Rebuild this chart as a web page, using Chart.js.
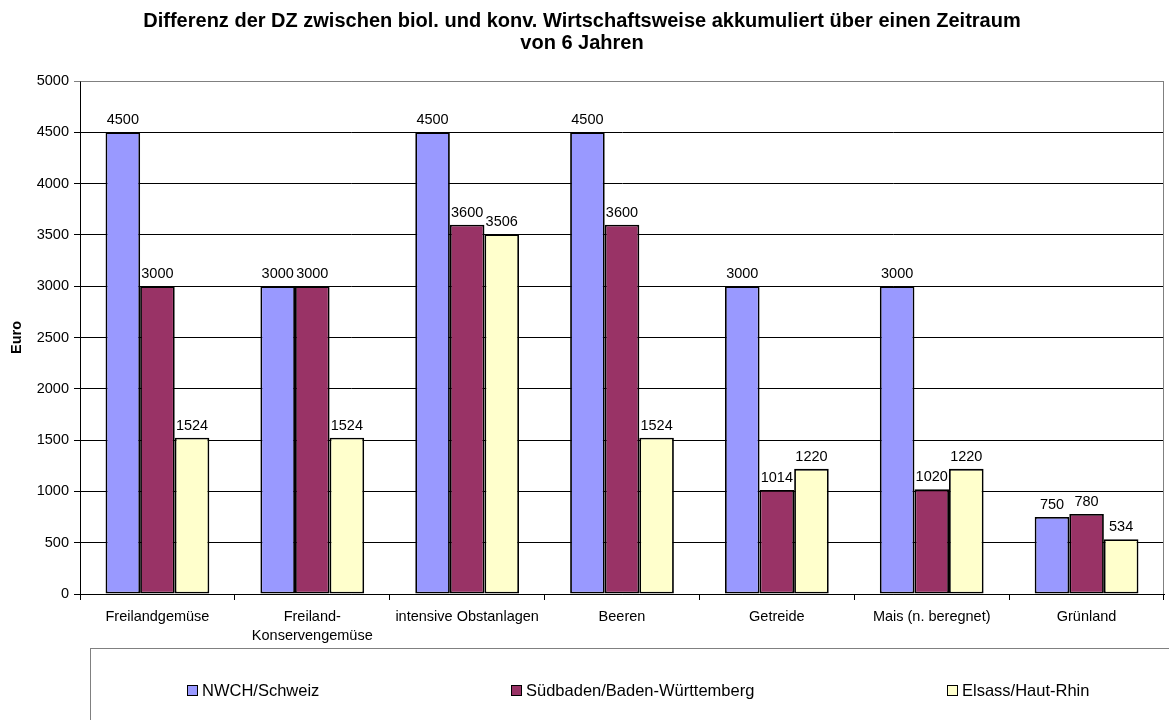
<!DOCTYPE html>
<html>
<head>
<meta charset="utf-8">
<script src="https://cdn.jsdelivr.net/npm/chart.js@4/dist/chart.umd.min.js"></script>
<style>
html,body{margin:0;padding:0;background:#fff;}
#wrap{width:1169px;height:720px;position:relative;}
</style>
</head>
<body>
<div id="wrap"><canvas id="c" width="1169" height="720"></canvas></div>
<script>
const categories = [
  "Freilandgemüse",
  ["Freiland-", "Konservengemüse"],
  "intensive Obstanlagen",
  "Beeren",
  "Getreide",
  "Mais (n. beregnet)",
  "Grünland"
];
const seriesNames = ["NWCH/Schweiz", "Südbaden/Baden-Württemberg", "Elsass/Haut-Rhin"];
const nwch = [4500, 3000, 4500, 4500, 3000, 3000, 750];
const suedbaden = [3000, 3000, 3600, 3600, 1014, 1020, 780];
const elsass = [1524, 1524, 3506, 1524, 1220, 1220, 534];
const yTicks = [0, 500, 1000, 1500, 2000, 2500, 3000, 3500, 4000, 4500, 5000];
const titleLines = ["Differenz der DZ zwischen biol. und konv. Wirtschaftsweise akkumuliert über einen Zeitraum", "von 6 Jahren"];
const yTitle = "Euro";
const colors = ["#9999FF", "#993366", "#FFFFCC"];

const FONT = "'Liberation Sans', Arial, sans-serif";

const plotFrame = {
  id: 'plotFrame',
  beforeDatasetsDraw(chart) {
    const {ctx, chartArea: a} = chart;
    ctx.save();
    ctx.strokeStyle = '#808080';
    ctx.lineWidth = 1;
    ctx.beginPath();
    ctx.moveTo(Math.round(a.left) + 0.5, Math.round(a.top) + 0.5);
    ctx.lineTo(Math.round(a.right) - 0.5, Math.round(a.top) + 0.5);
    ctx.lineTo(Math.round(a.right) - 0.5, Math.round(a.bottom));
    ctx.stroke();
    ctx.restore();
  }
};

const dataLabels = {
  id: 'dataLabels',
  afterDatasetsDraw(chart) {
    const {ctx} = chart;
    ctx.save();
    ctx.font = "14.5px " + FONT;
    ctx.fillStyle = '#000';
    ctx.textAlign = 'center';
    ctx.textBaseline = 'alphabetic';
    chart.data.datasets.forEach((ds, i) => {
      const meta = chart.getDatasetMeta(i);
      meta.data.forEach((bar, j) => {
        ctx.fillText(String(ds.data[j]), bar.x, bar.y - 8);
      });
    });
    ctx.restore();
  }
};

const boxLegend = {
  id: 'boxLegend',
  afterDraw(chart) {
    const {ctx} = chart;
    ctx.save();
    ctx.strokeStyle = '#808080';
    ctx.lineWidth = 1;
    ctx.strokeRect(90.5, 648.5, 1200, 200);
    const xs = [187, 511, 947];
    ctx.font = "16.5px " + FONT;
    ctx.textBaseline = 'middle';
    ctx.textAlign = 'left';
    chart.data.datasets.forEach((ds, i) => {
      const x = xs[i];
      ctx.fillStyle = ds.backgroundColor;
      ctx.fillRect(x + 0.5, 685.5, 10, 10);
      ctx.strokeStyle = '#000';
      ctx.lineWidth = 1;
      ctx.strokeRect(x + 0.5, 685.5, 10, 10);
      ctx.fillStyle = '#000';
      ctx.fillText(ds.label, x + 15, 691);
    });
    ctx.restore();
  }
};

new Chart(document.getElementById('c'), {
  type: 'bar',
  data: {
    labels: categories,
    datasets: [
      {label: seriesNames[0], data: nwch, backgroundColor: colors[0]},
      {label: seriesNames[1], data: suedbaden, backgroundColor: colors[1]},
      {label: seriesNames[2], data: elsass, backgroundColor: colors[2]}
    ].map(d => Object.assign(d, {borderColor: '#000', borderWidth: 1.8, borderSkipped: false, barPercentage: 1, categoryPercentage: 0.67}))
  },
  options: {
    responsive: false,
    animation: false,
    layout: {padding: {top: 0, right: 5, bottom: 0, left: 0}},
    plugins: {
      legend: {display: false},
      tooltip: {enabled: false},
      title: {
        display: true,
        text: titleLines,
        color: '#000',
        font: {family: FONT, size: 20, weight: 'bold', lineHeight: '21.5px'},
        padding: {top: 10.75, bottom: 27.25}
      }
    },
    scales: {
      x: {
        grid: {display: true, drawOnChartArea: false, drawTicks: true, tickLength: 6, color: '#000', offset: true},
        border: {display: true, color: '#000', width: 1},
        ticks: {color: '#000', font: {family: FONT, size: 14.5, lineHeight: '19px'}, padding: 7, maxRotation: 0, autoSkip: false},
        afterFit(scale) { scale.height = 126; }
      },
      y: {
        min: 0, max: 5000,
        afterBuildTicks(scale) { scale.ticks = yTicks.map(v => ({value: v})); },
        grid: {color: ctx => (ctx.tick && ctx.tick.value === 5000) ? '#808080' : '#000', lineWidth: 1, tickLength: 6, drawTicks: true},
        border: {display: true, color: '#000', width: 1},
        ticks: {color: '#000', font: {family: FONT, size: 14.5}, padding: 5, callback: v => String(v)},
        title: {display: true, text: yTitle, color: '#000', font: {family: FONT, size: 14.5, weight: 'bold'}, padding: {top: 8, bottom: 0}},
        afterFit(scale) { scale.width = 80; }
      }
    }
  },
  plugins: [plotFrame, dataLabels, boxLegend]
});
</script>
</body>
</html>
